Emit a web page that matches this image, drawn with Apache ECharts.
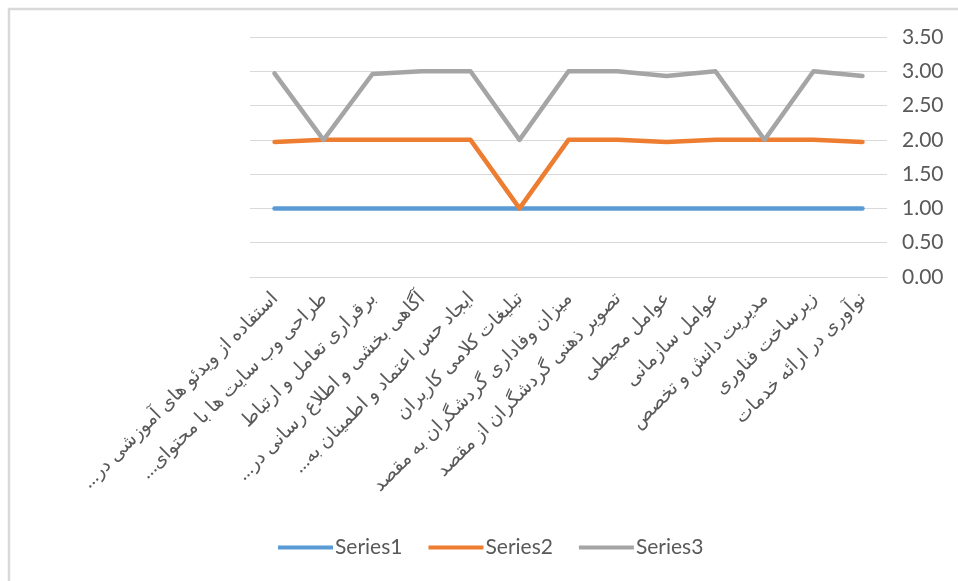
<!DOCTYPE html>
<html>
<head>
<meta charset="utf-8">
<script src="https://cdn.jsdelivr.net/npm/echarts@6/dist/echarts.min.js"></script>
<style>
  html, body { margin: 0; padding: 0; background: #fff; }
  #chart { width: 958px; height: 581px; }
</style>
</head>
<body>
<div id="chart"></div>
<script>
// Categories, left to right as drawn
const categories = [
  'استفاده از ویدئو های آموزشی در…',
  'طراحی وب سایت ها با محتوای…',
  'برقراری تعامل و ارتباط',
  'آگاهی بخشی و اطلاع رسانی در…',
  'ایجاد حس اعتماد و اطمینان به…',
  'تبلیغات کلامی کاربران',
  'میزان وفاداری گردشگران به مقصد',
  'تصویر ذهنی گردشگران از مقصد',
  'عوامل محیطی',
  'عوامل سازمانی',
  'مدیریت دانش و تخصص',
  'زیرساخت فناوری',
  'نوآوری در ارائه خدمات'
];

const series1 = [1, 1, 1, 1, 1, 1, 1, 1, 1, 1, 1, 1, 1];
const series2 = [1.97, 2, 2, 2, 2, 1, 2, 2, 1.97, 2, 2, 2, 1.97];
const series3 = [2.97, 2, 2.96, 3, 3, 2, 3, 3, 2.93, 3, 2, 3, 2.93];

const seriesNames = ['Series1', 'Series2', 'Series3'];
const colors = ['#5B9BD5', '#ED7D31', '#A5A5A5'];

const FONT = 'Lato, "DejaVu Sans", sans-serif';
const TEXT = '#595959';

const chart = echarts.init(document.getElementById('chart'));

chart.setOption({
  backgroundColor: '#fff',
  animation: false,
  color: colors,
  // chart area border
  graphic: [{
    type: 'rect',
    silent: true,
    shape: { x: 9, y: 9, width: 1000, height: 1000 },
    style: { fill: 'none', stroke: '#d9d9d9', lineWidth: 2.5 }
  }],
  grid: { left: 250, right: 71, top: 37, bottom: 304 },
  legend: {
    left: 273,
    bottom: 18,
    icon: 'rect',
    itemWidth: 55,
    itemHeight: 4,
    itemGap: 26,
    itemStyle: { borderWidth: 0 },
    textStyle: { color: TEXT, fontSize: 21, fontFamily: FONT, padding: [0, 0, 0, -3] },
    data: seriesNames
  },
  xAxis: {
    type: 'category',
    data: categories,
    boundaryGap: true,
    axisLine: { show: true, lineStyle: { color: '#d9d9d9', width: 1 } },
    axisTick: { show: false },
    axisLabel: {
      interval: 0,
      rotate: 45,
      margin: 18,
      color: TEXT,
      fontSize: 19,
      fontFamily: FONT,
      // keep right-to-left order so the ellipsis falls on the left
      formatter: v => '\u2067' + v + '\u2069'
    }
  },
  yAxis: {
    type: 'value',
    position: 'right',
    min: 0,
    max: 3.5,
    interval: 0.5,
    axisLine: { show: false },
    axisTick: { show: false },
    splitLine: { lineStyle: { color: '#d9d9d9', width: 1 } },
    axisLabel: {
      margin: 15,
      color: TEXT,
      fontSize: 21,
      fontFamily: FONT,
      formatter: v => v.toFixed(2)
    }
  },
  series: [series1, series2, series3].map((d, i) => ({
    name: seriesNames[i],
    type: 'line',
    data: d,
    symbol: 'none',
    lineStyle: { width: 4.5, color: colors[i], cap: 'round', join: 'round' },
    itemStyle: { color: colors[i] }
  }))
});
</script>
</body>
</html>
